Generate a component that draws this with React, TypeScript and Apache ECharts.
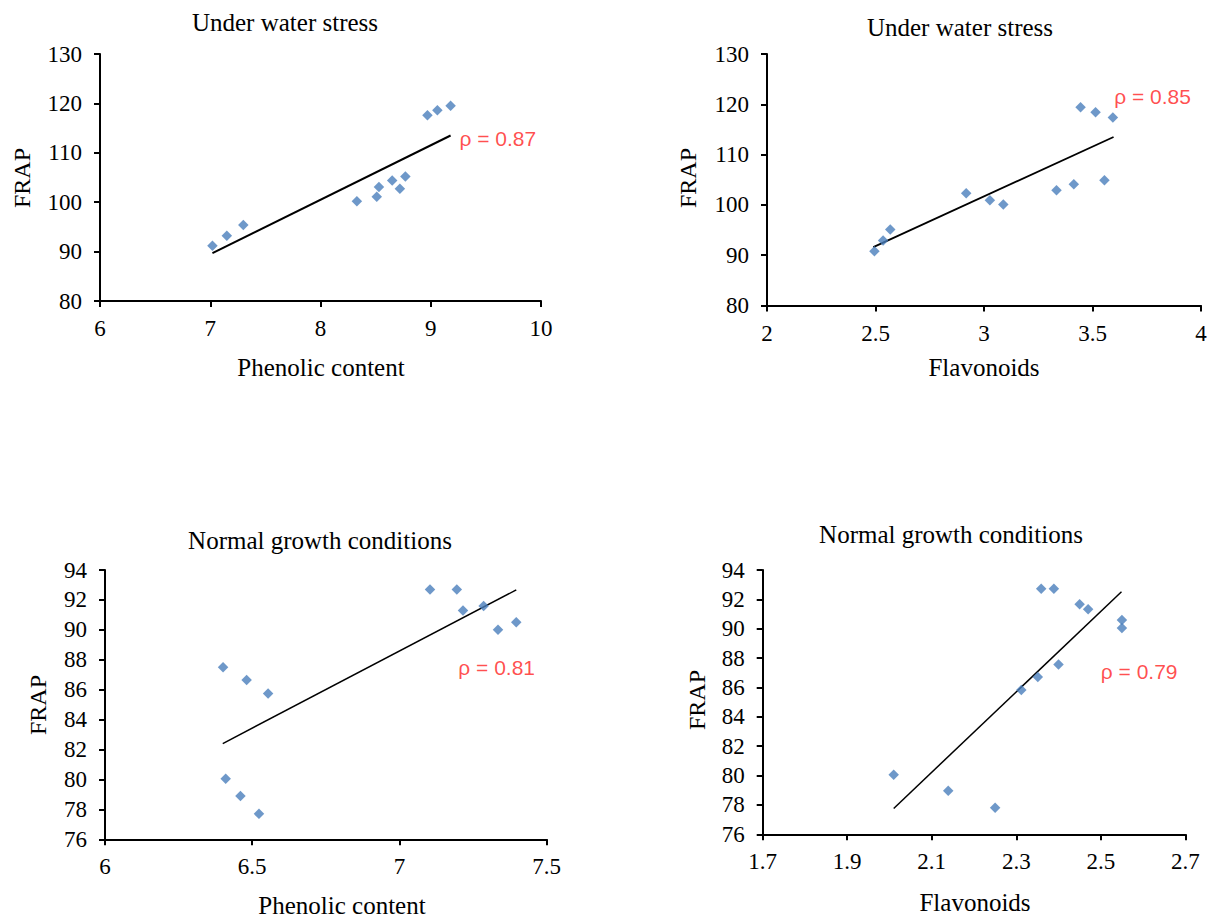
import React, { useEffect, useRef } from "react";
import * as echarts from "echarts";

// ---------- DATA ----------
const panelTitles = ["Under water stress", "Under water stress", "Normal growth conditions", "Normal growth conditions"];
const xAxisNames = ["Phenolic content", "Flavonoids", "Phenolic content", "Flavonoids"];
const yAxisName = "FRAP";
const rhoTexts = ["ρ = 0.87", "ρ = 0.85", "ρ = 0.81", "ρ = 0.79"];

const stressPhenolic: [number, number][] = [
  [7.02, 91.2], [7.15, 93.2], [7.3, 95.4], [8.33, 100.2], [8.51, 101.1], [8.53, 103.1],
  [8.65, 104.4], [8.72, 102.7], [8.77, 105.2], [8.97, 117.6], [9.06, 118.6], [9.18, 119.5],
];
const stressFlavonoids: [number, number][] = [
  [2.495, 90.8], [2.535, 92.9], [2.568, 95.1], [2.918, 102.3], [3.027, 100.9], [3.089, 100.1],
  [3.334, 102.9], [3.414, 104.1], [3.555, 104.9], [3.445, 119.4], [3.514, 118.4], [3.594, 117.4],
];
const normalPhenolic: [number, number][] = [
  [6.401, 87.5], [6.481, 86.65], [6.554, 85.75], [6.41, 80.05], [6.46, 78.9], [6.523, 77.7],
  [7.104, 92.7], [7.195, 92.7], [7.216, 91.3], [7.286, 91.6], [7.335, 90.0], [7.397, 90.5],
];
const normalFlavonoids: [number, number][] = [
  [2.01, 80.06], [2.139, 78.97], [2.25, 77.8], [2.312, 85.83], [2.351, 86.71], [2.4, 87.57],
  [2.359, 92.73], [2.389, 92.73], [2.45, 91.66], [2.47, 91.32], [2.55, 90.6], [2.55, 90.05],
];

// trend line end points
const trendStressPhenolic: [number, number][] = [[7.02, 89.7], [9.18, 113.5]];
const trendStressFlavonoids: [number, number][] = [[2.49, 91.6], [3.597, 113.5]];
const trendNormalPhenolic: [number, number][] = [[6.4, 82.4], [7.397, 92.67]];
const trendNormalFlavonoids: [number, number][] = [[2.01, 77.76], [2.549, 92.52]];

// where the rho annotation sits (data units)
const rhoAnchors: [number, number][] = [[9.26, 112.8], [3.6, 121.5], [7.2, 87.5], [2.5, 87.1]];

// axis ranges: [min, max, interval]
const xRanges: [number, number, number][] = [[6, 10, 1], [2, 4, 0.5], [6, 7.5, 0.5], [1.7, 2.7, 0.2]];
const yRanges: [number, number, number][] = [[80, 130, 10], [80, 130, 10], [76, 94, 2], [76, 94, 2]];

const pointSets = [stressPhenolic, stressFlavonoids, normalPhenolic, normalFlavonoids];
const trendSets = [trendStressPhenolic, trendStressFlavonoids, trendNormalPhenolic, trendNormalFlavonoids];

// ---------- LAYOUT ----------
const grids = [
  { left: 100, top: 54, width: 441, height: 247 },
  { left: 767, top: 54, width: 434, height: 251.5 },
  { left: 105, top: 570, width: 441.6, height: 269.3 },
  { left: 762.7, top: 570, width: 422.6, height: 264.3 },
];
const titlePos = [[285, 22], [960, 27], [320, 540], [951, 534]];
const xNamePos = [[321, 367], [984, 367], [342, 905], [975, 902]];
const yNamePos = [[22, 178], [688, 178], [38, 705], [697, 700]];
const trendWidths = [2, 1.8, 1.5, 1.5];

const SERIF = "'Liberation Serif', 'Times New Roman', serif";
const SANS = "'Liberation Sans', Arial, sans-serif";

export default function App() {
  const ref = useRef<HTMLDivElement>(null);
  useEffect(() => {
    if (!ref.current) return;
    const chart = echarts.init(ref.current, undefined, { renderer: "svg" });
    const axisLine = { show: true, lineStyle: { color: "#000", width: 2 } };
    const axisTick = { show: true, length: 6, lineStyle: { color: "#000", width: 2 } };
    const labelStyle = { color: "#000", fontFamily: SERIF, fontSize: 23 };

    const xAxis = xRanges.map((r, i) => ({
      type: "value",
      gridIndex: i,
      min: r[0],
      max: r[1],
      interval: r[2],
      axisLine,
      axisTick,
      splitLine: { show: false },
      axisLabel: {
        ...labelStyle,
        margin: 16,
        formatter: (v: number) => (i === 3 ? (Math.round(v * 10) / 10).toFixed(1) : String(Math.round(v * 10) / 10)),
      },
    }));
    const yAxis = yRanges.map((r, i) => ({
      type: "value",
      gridIndex: i,
      min: r[0],
      max: r[1],
      interval: r[2],
      axisLine,
      axisTick,
      splitLine: { show: false },
      axisLabel: { ...labelStyle, margin: 18 },
    }));

    const series: any[] = [];
    pointSets.forEach((pts, i) => {
      series.push({
        type: "scatter",
        xAxisIndex: i,
        yAxisIndex: i,
        symbol: "diamond",
        symbolSize: 10.5,
        itemStyle: { color: "#4a7ebb" },
        data: pts,
        z: 3,
      });
      series.push({
        type: "line",
        xAxisIndex: i,
        yAxisIndex: i,
        showSymbol: false,
        symbol: "none",
        lineStyle: { color: "#000", width: trendWidths[i] },
        data: trendSets[i],
        z: 2,
      });
      series.push({
        type: "scatter",
        xAxisIndex: i,
        yAxisIndex: i,
        symbolSize: 0,
        itemStyle: { color: "transparent" },
        data: [rhoAnchors[i]],
        label: {
          show: true,
          position: "right",
          distance: 0,
          formatter: rhoTexts[i],
          color: "#ff1f1f",
          fontFamily: SANS,
          fontSize: 21,
        },
        silent: true,
      });
    });

    const graphic: any[] = [];
    panelTitles.forEach((t, i) => {
      graphic.push({
        type: "text",
        x: titlePos[i][0],
        y: titlePos[i][1],
        style: { text: t, fill: "#000", font: `25px ${SERIF}`, textAlign: "center", textVerticalAlign: "middle" },
      });
      graphic.push({
        type: "text",
        x: xNamePos[i][0],
        y: xNamePos[i][1],
        style: { text: xAxisNames[i], fill: "#000", font: `25px ${SERIF}`, textAlign: "center", textVerticalAlign: "middle" },
      });
      graphic.push({
        type: "text",
        x: yNamePos[i][0],
        y: yNamePos[i][1],
        rotation: Math.PI / 2,
        style: { text: yAxisName, fill: "#000", font: `24px ${SERIF}`, textAlign: "center", textVerticalAlign: "middle" },
      });
    });

    chart.setOption({
      animation: false,
      backgroundColor: "#fff",
      grid: grids.map((g) => ({ ...g, containLabel: false })),
      xAxis,
      yAxis,
      series,
      graphic,
    });
    return () => chart.dispose();
  }, []);
  return <div ref={ref} style={{ position: "fixed", left: 0, top: 0, width: 1211, height: 918 }} />;
}
